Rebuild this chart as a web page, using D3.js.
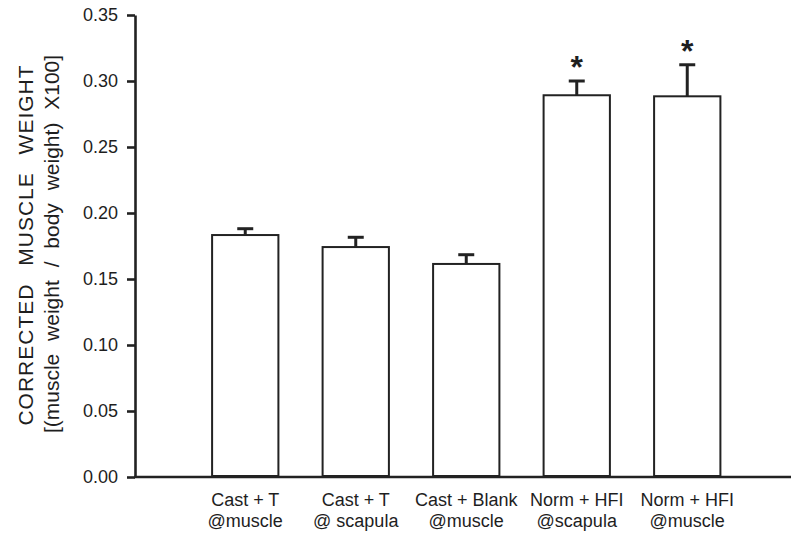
<!DOCTYPE html>
<html>
<head>
<meta charset="utf-8">
<script src="https://cdn.jsdelivr.net/npm/d3@7"></script>
<style>
  body { margin: 0; background: #fff; }
  text { font-family: "Liberation Sans", Arial, sans-serif; fill: #1e1e1e; }
</style>
</head>
<body>
<div id="chart"></div>
<script>
// chart data
var groups = ["Cast + T|@muscle", "Cast + T|@ scapula", "Cast + Blank|@muscle", "Norm + HFI|@scapula", "Norm + HFI|@muscle"];
var means = [0.1833, 0.1742, 0.1614, 0.2892, 0.2884];
var errors = [0.0048, 0.0074, 0.0070, 0.0108, 0.0239];
var stars = ["", "", "", "*", "*"];
var yTicks = [0.00, 0.05, 0.10, 0.15, 0.20, 0.25, 0.30, 0.35];

var W = 791, H = 535;
var ink = "#222";

var svg = d3.select("#chart")
    .append("svg")
    .attr("width", W)
    .attr("height", H);

// scales
var y = d3.scaleLinear()
    .domain([0, 0.35])
    .range([477, 15]);

var x = d3.scaleBand()
    .domain(groups)
    .range([190, 742.5])
    .paddingInner(0.4)
    .paddingOuter(0.2);

// y axis
var yAxis = svg.append("g")
    .attr("transform", "translate(135,0)")
    .call(d3.axisLeft(y)
        .tickValues(yTicks)
        .tickFormat(d3.format(".2f"))
        .tickSize(8)
        .tickSizeOuter(0)
        .tickPadding(9));
yAxis.select(".domain").attr("stroke", ink).attr("stroke-width", 2.6);
yAxis.selectAll(".tick line").attr("stroke", ink).attr("stroke-width", 2.6);
yAxis.selectAll(".tick text")
    .style("font-size", "18px")
    .style("font-family", "'Liberation Sans', Arial, sans-serif")
    .attr("fill", "#1e1e1e");

// x baseline runs to the edge
svg.append("line")
    .attr("x1", 134)
    .attr("x2", W)
    .attr("y1", y(0))
    .attr("y2", y(0))
    .attr("stroke", ink)
    .attr("stroke-width", 2.6);

// bars
svg.append("g")
    .selectAll("rect")
    .data(groups)
    .enter()
    .append("rect")
    .attr("x", function (d) { return x(d); })
    .attr("y", function (d, i) { return y(means[i]); })
    .attr("width", x.bandwidth())
    .attr("height", function (d, i) { return y(0) - y(means[i]) - 1; })
    .attr("fill", "none")
    .attr("stroke", ink)
    .attr("stroke-width", 2);

// error bars (upper only)
var eb = svg.append("g").selectAll("g")
    .data(groups)
    .enter()
    .append("g");
eb.append("line")
    .attr("x1", function (d) { return x(d) + x.bandwidth() / 2; })
    .attr("x2", function (d) { return x(d) + x.bandwidth() / 2; })
    .attr("y1", function (d, i) { return y(means[i]); })
    .attr("y2", function (d, i) { return y(means[i] + errors[i]); })
    .attr("stroke", ink)
    .attr("stroke-width", 3);
eb.append("line")
    .attr("x1", function (d) { return x(d) + x.bandwidth() / 2 - 8; })
    .attr("x2", function (d) { return x(d) + x.bandwidth() / 2 + 8; })
    .attr("y1", function (d, i) { return y(means[i] + errors[i]); })
    .attr("y2", function (d, i) { return y(means[i] + errors[i]); })
    .attr("stroke", ink)
    .attr("stroke-width", 3);

// significance stars
svg.append("g")
    .selectAll("text")
    .data(groups)
    .enter()
    .append("text")
    .attr("x", function (d) { return x(d) + x.bandwidth() / 2; })
    .attr("y", function (d, i) { return y(means[i] + errors[i]) - 3; })
    .attr("text-anchor", "middle")
    .style("font-size", "32px")
    .style("font-weight", "bold")
    .text(function (d, i) { return stars[i]; });

// category labels, two lines each
var lab = svg.append("g")
    .selectAll("text")
    .data(groups)
    .enter()
    .append("text")
    .attr("text-anchor", "middle")
    .style("font-size", "18px");
lab.append("tspan")
    .attr("x", function (d) { return x(d) + x.bandwidth() / 2; })
    .attr("y", 506)
    .text(function (d) { return d.split("|")[0]; });
lab.append("tspan")
    .attr("x", function (d) { return x(d) + x.bandwidth() / 2; })
    .attr("y", 527)
    .text(function (d) { return d.split("|")[1]; });

// y axis title
svg.append("text")
    .attr("transform", "translate(33,245) rotate(-90)")
    .attr("text-anchor", "middle")
    .style("font-size", "21px")
    .style("letter-spacing", "1px")
    .style("word-spacing", "11px")
    .text("CORRECTED MUSCLE WEIGHT");
svg.append("text")
    .attr("transform", "translate(59,244) rotate(-90)")
    .attr("text-anchor", "middle")
    .style("font-size", "21px")
    .style("word-spacing", "7px")
    .text("[(muscle weight / body weight) X100]");
</script>
</body>
</html>
